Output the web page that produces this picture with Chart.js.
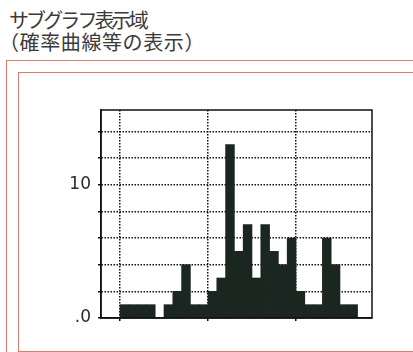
<!DOCTYPE html>
<html lang="ja">
<head>
<meta charset="utf-8">
<title>サブグラフ表示域</title>
<script src="https://cdn.jsdelivr.net/npm/chart.js@4.4.1/dist/chart.umd.min.js"></script>
<style>
  html, body { margin: 0; padding: 0; background: #fff; }
  #page { position: relative; width: 413px; height: 352px; overflow: hidden; }
  .title {
    position: absolute; left: 0; white-space: nowrap;
    font-family: "Noto Sans CJK JP", sans-serif; color: #3a3a3a;
    font-size: 20px; line-height: 21px;
  }
  #t1 { top: 9px; left: 9px; letter-spacing: -2.9px; }
  #t2 { top: 31px; left: -1px; letter-spacing: 0.6px; }
  .frame { position: absolute; border: 1px solid #dc7a6c; border-right: none; }
  #outer { left: 6px; top: 60px; width: 420px; height: 310px; border-bottom: none; }
  #inner { left: 18px; top: 72px; width: 410px; height: 278px; }
  #chart { position: absolute; left: 0; top: 0; }
</style>
</head>
<body>
<div id="page">
  <div class="title" id="t1">サブグラフ表示域</div>
  <div class="title" id="t2">（確率曲線等の表示）</div>
  <div class="frame" id="outer"></div>
  <div class="frame" id="inner"></div>
  <canvas id="chart" width="413" height="352"></canvas>
</div>
<script>
// Histogram bins (left edge of each bin) and the count in each bin
const bins   = [0, 1, 2, 3, 4, 5, 6, 7, 8, 9, 10, 11, 12, 13, 14, 15, 16, 17, 18, 19, 20, 21, 22, 23, 24, 25, 26];
const counts = [1, 1, 1, 1, 0, 1, 2, 4, 1, 1, 2, 3, 13, 5, 7, 3, 7, 5, 4, 6, 2, 1, 1, 6, 4, 1, 1];

// Axis marks
const xGridValues = [0, 10, 20];
const yGridValues = [0, 2, 4, 6, 8, 10, 12, 14];
const yLabels = { 0: '.0', 10: '10' };

const ink = '#111';

// Solid frame around the plotting area
const plotFrame = {
  id: 'plotFrame',
  afterDatasetsDraw(chart) {
    const { ctx, chartArea: a } = chart;
    ctx.save();
    ctx.strokeStyle = ink;
    ctx.lineWidth = 1.5;
    ctx.strokeRect(a.left, a.top, a.right - a.left, a.bottom - a.top);
    ctx.restore();
  }
};

new Chart(document.getElementById('chart'), {
  type: 'bar',
  data: {
    datasets: [{
      data: bins.map((b, i) => ({ x: b + 0.5, y: counts[i] })),
      backgroundColor: '#1b2621',
      borderWidth: 0,
      barPercentage: 1,
      categoryPercentage: 1
    }]
  },
  options: {
    responsive: false,
    animation: false,
    devicePixelRatio: 1,
    layout: { padding: { top: 110, right: 41, left: 0, bottom: 0 } },
    plugins: { legend: { display: false }, tooltip: { enabled: false } },
    scales: {
      x: {
        type: 'linear',
        min: -2.16,
        max: 28.64,
        offset: false,
        afterBuildTicks: s => { s.ticks = xGridValues.map(v => ({ value: v })); },
        afterFit: s => { s.height = 34; },
        ticks: { callback: () => '', padding: 0 },
        grid: { offset: false, color: ink, lineWidth: 1.5, tickLength: 3, tickColor: ink },
        border: { display: true, color: ink, width: 1.5, dash: [1.5, 1.5] }
      },
      y: {
        type: 'linear',
        min: 0,
        max: 15.6,
        afterBuildTicks: s => { s.ticks = yGridValues.map(v => ({ value: v })); },
        afterFit: s => { s.width = 101; },
        ticks: {
          callback: v => (yLabels[v] !== undefined ? yLabels[v] : ''),
          color: '#2a2a2a',
          font: { family: 'DejaVu Sans', size: 17 },
          padding: 7
        },
        grid: { color: ink, lineWidth: 1.5, tickLength: 3, tickColor: ink },
        border: { display: true, color: ink, width: 1.5, dash: [1.5, 1.5] }
      }
    }
  },
  plugins: [plotFrame]
});
</script>
</body>
</html>
